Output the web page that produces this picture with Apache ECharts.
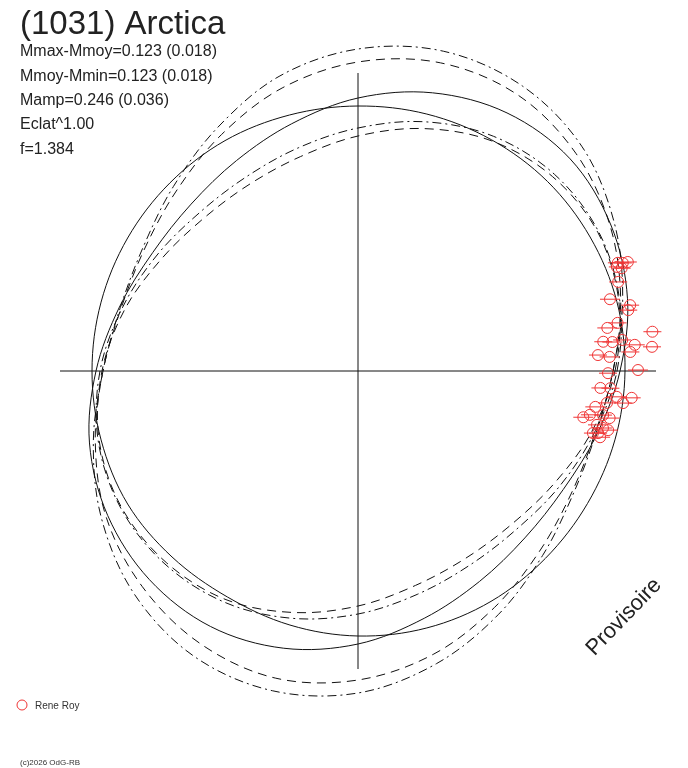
<!DOCTYPE html>
<html>
<head>
<meta charset="utf-8">
<title>(1031) Arctica</title>
<script src="https://cdn.jsdelivr.net/npm/echarts@6/dist/echarts.min.js"></script>
<style>
  html, body { margin: 0; padding: 0; background: #fff; }
  #main { width: 688px; height: 768px; }
</style>
</head>
<body>
<div id="main"></div>
<script>
// phase angles (degrees, 0 = right, counter-clockwise) for the model curves
var angles = [0, 15, 30, 45, 60, 75, 90, 105, 120, 135, 150, 165,
              180, 195, 210, 225, 240, 255, 270, 285, 300, 315, 330, 345];

// radius of each curve at those angles
var circleR  = [267, 268, 268, 268, 267, 266, 265, 265, 266, 266, 266, 266,
                266, 266, 266, 263, 261, 263, 265, 266, 266, 265, 265, 266];
var fitR     = [262, 279, 292, 300, 298, 288, 273, 256, 243, 236, 237, 247,
                262, 278, 289, 295, 295, 287, 273, 256, 243, 236, 237, 247];
var upperDotR  = [255, 274, 296, 317, 329, 331, 322, 305, 281, 261, 248, 246,
                  255, 274, 296, 316, 329, 331, 322, 303, 281, 261, 248, 246];
var upperDashR = [255, 272, 291, 308, 319, 319, 309, 293, 273, 256, 246, 245,
                  255, 272, 291, 305, 315, 318, 309, 293, 273, 256, 246, 245];
var lowerDotR  = [259, 271, 278, 278, 271, 258, 243, 231, 224, 224, 232, 244,
                  258, 269, 274, 273, 267, 256, 243, 231, 224, 224, 232, 244];
var lowerDashR = [257, 270, 277, 275, 266, 251, 235, 222, 216, 217, 226, 241,
                  256, 268, 273, 271, 264, 250, 235, 222, 216, 217, 226, 241];

// observations (Rene Roy): radius, angle, error
var obsR = [286, 281.5, 291, 283, 279, 275, 262, 280, 277, 253, 264, 297, 247, 256,
            266, 278, 295, 240.5, 252, 273, 250, 280, 243, 253, 260, 275, 267, 240,
            251, 230, 236, 249, 256, 245, 251.5, 257, 243, 248, 251];
var obsA = [22.2, 22.6, 22.0, 21.3, 21.9, 18.9, 15.9, 13.6, 12.7, 9.8, 10.5, 7.6, 6.8, 6.5,
            6.7, 5.4, 4.7, 3.8, 3.2, 4.0, 359.5, 0.2, 356.0, 356.1, 354.3, 354.4, 353.1, 351.4,
            352.7, 348.4, 349.3, 349.8, 349.4, 347.3, 346.9, 346.7, 345.2, 345.5, 344.7];
var obsErr = [9, 10, 9, 9, 8, 9, 10, 9, 9, 10, 9, 9, 9, 10,
              9, 10, 9, 9, 10, 9, 9, 10, 9, 9, 10, 9, 9, 10,
              9, 10, 9, 9, 10, 9, 9, 10, 9, 9, 10];

var infoLines = ['Mmax-Mmoy=0.123 (0.018)', 'Mmoy-Mmin=0.123 (0.018)',
                 'Mamp=0.246 (0.036)', 'Eclat^1.00', 'f=1.384'];

var dom = document.getElementById('main');
var myChart = echarts.init(dom, null, { renderer: 'canvas' });

// closed smooth curve through the readings, placed with the polar scales
function curve(name, rs, dash) {
    return {
        name: name,
        type: 'custom',
        coordinateSystem: 'polar',
        polarIndex: 1,
        silent: true,
        data: rs.map(function (r, i) { return [r, angles[i]]; }),
        z: 2,
        renderItem: function (params, api) {
            if (params.dataIndex !== 0) return null;
            var pts = rs.map(function (r, i) { return api.coord([r, angles[i]]); });
            return {
                type: 'polygon',
                shape: { points: pts, smooth: 0.34 },
                style: { stroke: '#111', fill: 'none', lineWidth: 1, lineDash: dash }
            };
        }
    };
}

var red = '#f03535';
var obsData = obsR.map(function (r, i) { return [r, obsA[i], obsErr[i]]; });

var infoGraphics = infoLines.map(function (t, i) {
    return {
        type: 'text', x: 20, y: 52 + i * 24.3,
        style: { text: t, fontSize: 16, fontFamily: 'Liberation Sans', fill: '#222',
                 textVerticalAlign: 'middle', verticalAlign: 'middle' }
    };
});

var hidden = { axisLine: { show: false }, axisTick: { show: false },
               axisLabel: { show: false }, splitLine: { show: false } };

var option = {
    backgroundColor: '#fff',
    animation: false,
    // polar 0: the cross of axes (radius 298 px); polar 1: same scale, room for the curves
    polar: [
        { center: [358, 371], radius: 298 },
        { center: [358, 371], radius: 360 }
    ],
    angleAxis: [
        {
            polarIndex: 0, type: 'value', min: 0, max: 360, interval: 90,
            startAngle: 0, clockwise: false,
            axisLine: { show: false }, axisTick: { show: false }, axisLabel: { show: false },
            splitLine: { show: true, lineStyle: { color: '#111', width: 1 } }
        },
        Object.assign({ polarIndex: 1, type: 'value', min: 0, max: 360,
                        startAngle: 0, clockwise: false }, hidden)
    ],
    radiusAxis: [
        Object.assign({ polarIndex: 0, type: 'value', min: 0, max: 298 }, hidden),
        Object.assign({ polarIndex: 1, type: 'value', min: 0, max: 360 }, hidden)
    ],
    series: [
        curve('circle', circleR, null),
        curve('fit', fitR, null),
        curve('upper1', upperDotR, [9, 4, 2, 4]),
        curve('upper2', upperDashR, [9, 6]),
        curve('lower1', lowerDotR, [9, 4, 2, 4]),
        curve('lower2', lowerDashR, [9, 6]),
        {
            name: 'Rene Roy',
            type: 'custom',
            coordinateSystem: 'polar',
            polarIndex: 1,
            data: obsData,
            z: 5,
            renderItem: function (params, api) {
                var r = api.value(0), a = api.value(1), e = api.value(2);
                var p = api.coord([r, a]);
                var q = api.coord([r + e, a]);
                var len = Math.sqrt((q[0] - p[0]) * (q[0] - p[0]) + (q[1] - p[1]) * (q[1] - p[1]));
                return {
                    type: 'group',
                    children: [
                        { type: 'line', shape: { x1: p[0] - len, y1: p[1], x2: p[0] + len, y2: p[1] },
                          style: { stroke: red, lineWidth: 1 } },
                        { type: 'circle', shape: { cx: p[0], cy: p[1], r: 5.5 },
                          style: { stroke: red, fill: 'none', lineWidth: 1 } }
                    ]
                };
            }
        }
    ],
    graphic: [
        { type: 'text', x: 20, y: 25,
          style: { text: '(1031) Arctica', fontSize: 33, fontFamily: 'Liberation Sans', fill: '#222',
                   textVerticalAlign: 'middle', verticalAlign: 'middle' } },
        { type: 'circle', shape: { cx: 22, cy: 705, r: 5 },
          style: { stroke: red, fill: 'none', lineWidth: 1 } },
        { type: 'text', x: 35, y: 706,
          style: { text: 'Rene Roy', fontSize: 10, fontFamily: 'Liberation Sans', fill: '#333',
                   textVerticalAlign: 'middle', verticalAlign: 'middle' } },
        { type: 'text', x: 20, y: 763,
          style: { text: '(c)2026 OdG-RB', fontSize: 8, fontFamily: 'Liberation Sans', fill: '#333',
                   textVerticalAlign: 'middle', verticalAlign: 'middle' } },
        { type: 'text', x: 624, y: 617, rotation: 46 * Math.PI / 180,
          style: { text: 'Provisoire', fontSize: 22, fontFamily: 'Liberation Sans', fill: '#222',
                   textAlign: 'center', align: 'center',
                   textVerticalAlign: 'middle', verticalAlign: 'middle' } }
    ].concat(infoGraphics)
};

if (option && typeof option === 'object') {
    myChart.setOption(option);
}
</script>
</body>
</html>
